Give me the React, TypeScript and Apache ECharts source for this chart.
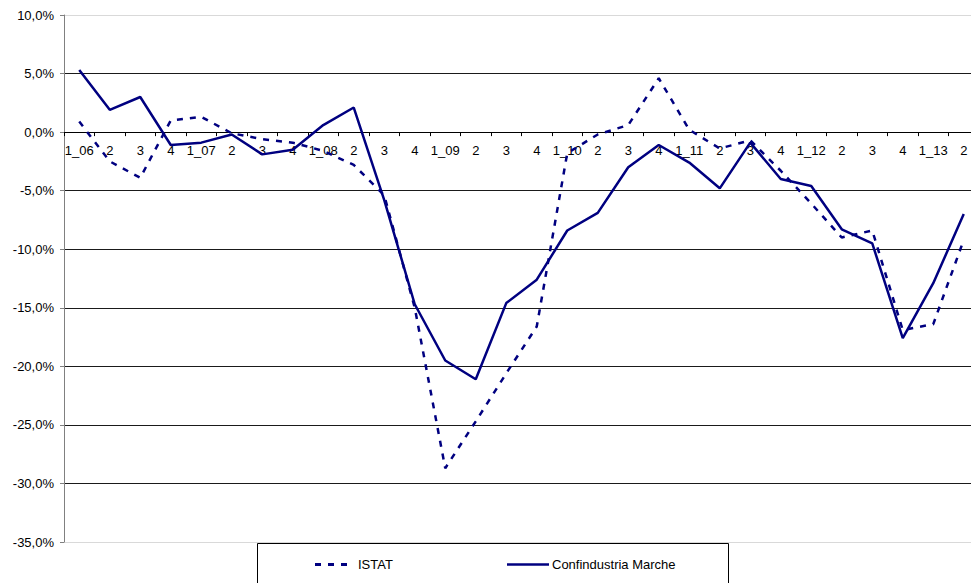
import React, { useEffect, useRef } from "react";
import * as echarts from "echarts";

const categories = [
  "1_06", "2", "3", "4",
  "1_07", "2", "3", "4",
  "1_08", "2", "3", "4",
  "1_09", "2", "3", "4",
  "1_10", "2", "3", "4",
  "1_11", "2", "3", "4",
  "1_12", "2", "3", "4",
  "1_13", "2",
];

const istat = [
  0.9, -2.5, -3.9, 1.0, 1.3, -0.1, -0.6, -0.9, -1.6, -2.8,
  -5.4, -15.0, -28.7, -24.7, -20.6, -16.6, -1.8, -0.2, 0.6, 4.6,
  0.2, -1.4, -0.7, -3.3, -6.1, -9.0, -8.4, -16.9, -16.4, -9.2,
];

const confindustria = [
  5.3, 1.9, 3.0, -1.1, -0.9, -0.2, -1.9, -1.5, 0.6, 2.1,
  -5.8, -14.7, -19.5, -21.1, -14.6, -12.6, -8.4, -6.9, -3.0, -1.1,
  -2.6, -4.8, -0.9, -4.0, -4.6, -8.3, -9.5, -17.6, -12.9, -7.0,
];

const seriesNames = ["ISTAT", "Confindustria Marche"];

const yMin = -35;
const yMax = 10;
const yStep = 5;

const FONT = "'Liberation Sans', Arial, sans-serif";
const NAVY = "#000080";

const W = 971;
const H = 583;
const CANVAS_W = 990;
const GRID_LEFT = 64;
const GRID_WIDTH = 915;
const GRID_TOP = 15;
const GRID_HEIGHT = 527;

export default function App() {
  const ref = useRef<HTMLDivElement>(null);

  useEffect(() => {
    if (!ref.current) return;
    const chart = echarts.init(ref.current, null, { renderer: "svg" });
    const gridColors = [
      "#d9d9d9", "#1a1a1a", "#1a1a1a", "#1a1a1a", "#1a1a1a",
      "#1a1a1a", "#1a1a1a", "#1a1a1a", "#1a1a1a", "#d9d9d9",
    ];
    const zeroY = GRID_TOP + (GRID_HEIGHT * (yMax - 0)) / (yMax - yMin);
    const bottomY = GRID_TOP + GRID_HEIGHT;
    const legendY = 564.5;
    chart.setOption({
      animation: false,
      backgroundColor: "#fff",
      textStyle: { fontFamily: FONT },
      grid: {
        left: GRID_LEFT,
        width: GRID_WIDTH,
        top: GRID_TOP,
        height: GRID_HEIGHT,
        containLabel: false,
      },
      graphic: [
        {
          type: "rect",
          z: 1,
          shape: { x: 257.5, y: 543.5, width: 471, height: 60 },
          style: { fill: "#fff", stroke: "#000", lineWidth: 1 },
        },
        {
          type: "line",
          z: 2,
          shape: { x1: 315, y1: legendY, x2: 352, y2: legendY },
          style: { stroke: NAVY, lineWidth: 3, lineDash: [6, 7] },
        },
        {
          type: "text",
          z: 2,
          x: 358,
          y: legendY,
          style: {
            text: seriesNames[0],
            fill: "#000",
            font: "13px " + FONT,
            verticalAlign: "middle",
            align: "left",
          },
        },
        {
          type: "line",
          z: 2,
          shape: { x1: 507, y1: legendY, x2: 549, y2: legendY },
          style: { stroke: NAVY, lineWidth: 2.5 },
        },
        {
          type: "text",
          z: 2,
          x: 552,
          y: legendY,
          style: {
            text: seriesNames[1],
            fill: "#000",
            font: "13px " + FONT,
            verticalAlign: "middle",
            align: "left",
          },
        },
      ],
      xAxis: {
        type: "category",
        data: categories,
        boundaryGap: true,
        position: "bottom",
        offset: -(bottomY - zeroY),
        axisLine: { onZero: false, lineStyle: { color: "#000", width: 1 } },
        axisTick: { show: true, length: 4, lineStyle: { color: "#000" } },
        axisLabel: {
          interval: 0,
          margin: 12,
          fontSize: 13,
          color: "#000",
          fontFamily: FONT,
        },
        splitLine: { show: false },
      },
      yAxis: {
        type: "value",
        min: yMin,
        max: yMax,
        interval: yStep,
        axisLine: { show: true, lineStyle: { color: "#808080", width: 1 } },
        axisTick: { show: true, length: 4, lineStyle: { color: "#808080" } },
        axisLabel: {
          margin: 10,
          fontSize: 13,
          color: "#000",
          fontFamily: FONT,
          formatter: (v: number) => v.toFixed(1).replace(".", ",") + "%",
        },
        splitLine: { show: true, lineStyle: { color: gridColors, width: 1 } },
      },
      series: [
        {
          name: seriesNames[0],
          type: "line",
          data: istat,
          symbol: "none",
          showSymbol: false,
          lineStyle: { color: NAVY, width: 2.5, type: [6, 7] },
          itemStyle: { color: NAVY },
          z: 3,
        },
        {
          name: seriesNames[1],
          type: "line",
          data: confindustria,
          symbol: "none",
          showSymbol: false,
          lineStyle: { color: NAVY, width: 2.5, type: "solid" },
          itemStyle: { color: NAVY },
          z: 4,
        },
      ],
    });
    return () => chart.dispose();
  }, []);

  return (
    <div
      style={{
        position: "absolute",
        left: 0,
        top: 0,
        width: W,
        height: H,
        overflow: "hidden",
        background: "#fff",
      }}
    >
      <div ref={ref} style={{ width: CANVAS_W, height: H }} />
    </div>
  );
}
